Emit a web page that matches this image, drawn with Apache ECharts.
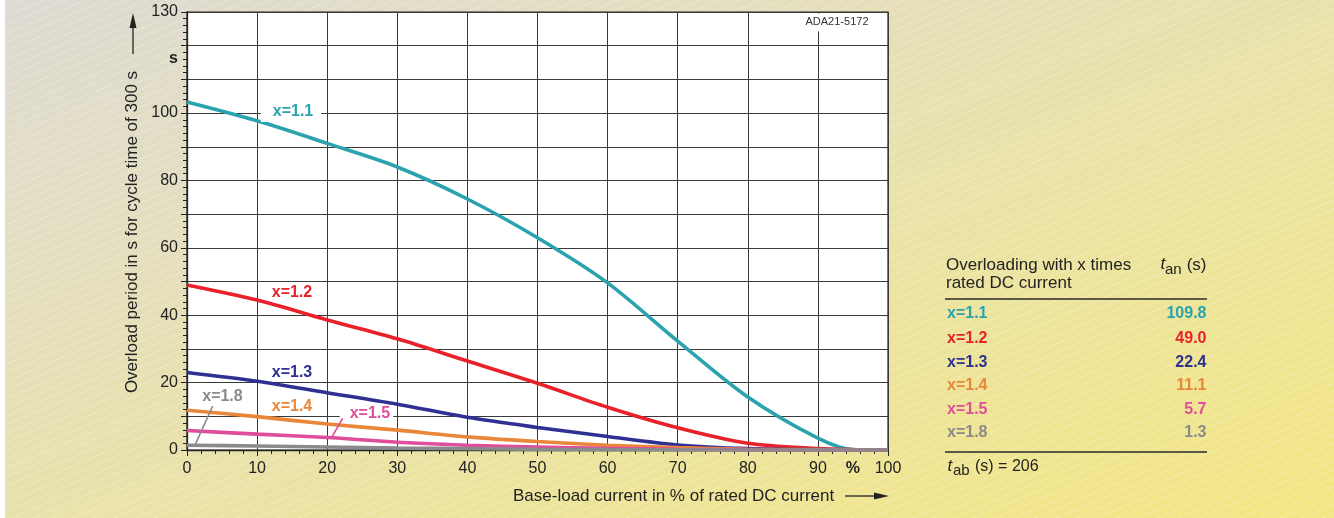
<!DOCTYPE html>
<html><head><meta charset="utf-8">
<script src="https://cdn.jsdelivr.net/npm/echarts@6/dist/echarts.min.js"></script>
<style>
html,body{margin:0;padding:0;background:#fff;overflow:hidden;}
#bg{position:absolute;left:5px;top:0;width:1329px;height:518px;
background:
 repeating-linear-gradient(157deg, rgba(255,255,255,0) 0px, rgba(255,255,255,0) 7px, rgba(255,255,255,0.22) 7px, rgba(255,255,255,0.22) 8px),
 linear-gradient(to bottom right, #dddbd3 0%, #e5dfbb 33%, #ebe3a3 60%, #f3e784 100%);}
#chart{position:absolute;left:0;top:0;width:1334px;height:518px;}
</style></head>
<body>
<div id="bg"></div>
<div id="chart"></div>
<script>
// ---- data ----
const xs   = [0, 10, 20, 30, 40, 50, 60, 70, 80, 90, 95, 100];
const s11  = [103.3, 97.7, 91.0, 84.0, 74.5, 63.0, 49.6, 32.3, 15.7, 3.5, 0.1, 0];
const s12  = [49.0, 44.5, 38.6, 33.0, 26.4, 19.8, 12.7, 6.6, 2.0, 0.4, 0.1, 0];
const s13  = [23.0, 20.4, 17.0, 13.6, 9.7, 6.7, 4.0, 1.5, 0.4, 0.1, 0, 0];
const s14  = [11.8, 9.9, 7.7, 5.9, 3.9, 2.5, 1.4, 0.7, 0.2, 0.1, 0, 0];
const s15  = [5.8, 4.7, 3.7, 2.3, 1.4, 0.9, 0.5, 0.2, 0.1, 0, 0, 0];
const s18  = [1.4, 1.2, 0.9, 0.6, 0.4, 0.2, 0.1, 0.05, 0, 0, 0, 0];
const seriesNames = ['x=1.1', 'x=1.2', 'x=1.3', 'x=1.4', 'x=1.5', 'x=1.8'];
const tanValues   = ['109.8', '49.0', '22.4', '11.1', '5.7', '1.3'];
const tabValue    = '206';
const yTickLabels = [0, 20, 40, 60, 80, 100, 130];
const colors = ['#2aa3ae', '#e8212a', '#2e3192', '#e8873a', '#e04d9b', '#8a8a8c'];

const FF = '"Liberation Sans", Arial, Helvetica, sans-serif';
const allSeries = [s11, s12, s13, s14, s15, s18];

const chart = echarts.init(document.getElementById('chart'), null, {renderer: 'canvas'});

const option = {
  backgroundColor: 'transparent',
  animation: false,
  textStyle: {fontFamily: FF},
  grid: {left: 187, right: 446, top: 12, bottom: 68, show: true, backgroundColor: '#fff',
         borderColor: '#222', borderWidth: 1.2, containLabel: false},
  xAxis: [{
    type: 'value', min: 0, max: 100, interval: 10,
    axisLine: {show: true, onZero: false, lineStyle: {color: '#222', width: 1.3}},
    axisTick: {show: true, length: 6, lineStyle: {color: '#222', width: 1}},
    minorTick: {show: true, splitNumber: 5, length: 4, lineStyle: {color: '#222', width: 1}},
    splitLine: {show: true, lineStyle: {color: '#3a3a3a', width: 1}},
    axisLabel: {fontSize: 16, color: '#222', margin: 11, fontFamily: FF,
      formatter: v => String(v)}
  }, {
    type: 'value', min: 0, max: 100, interval: 5, position: 'bottom',
    axisLine: {show: false}, axisTick: {show: false}, splitLine: {show: false},
    axisLabel: {fontSize: 16, fontWeight: 'bold', color: '#222', margin: 11, fontFamily: FF,
      formatter: v => (v === 95 ? '%' : '')}
  }],
  yAxis: {
    type: 'value', min: 0, max: 130, interval: 10,
    axisLine: {show: true, onZero: false, lineStyle: {color: '#222', width: 1.3}},
    axisTick: {show: true, length: 6, lineStyle: {color: '#222', width: 1}},
    minorTick: {show: true, splitNumber: 5, length: 4, lineStyle: {color: '#222', width: 1}},
    splitLine: {show: true, lineStyle: {color: '#3a3a3a', width: 1}},
    axisLabel: {fontSize: 16, color: '#222', margin: 9, fontFamily: FF,
      formatter: v => (yTickLabels.indexOf(v) >= 0 ? String(v) : '')}
  },
  series: allSeries.map((vals, i) => ({
    name: seriesNames[i], type: 'line', xAxisIndex: 0,
    smooth: 0.3, showSymbol: false, symbol: 'none',
    lineStyle: {color: colors[i], width: 3.6},
    z: 3 + i,
    data: xs.map((x, k) => [x, vals[k]])
  }))
};
chart.setOption(option);

const p = (x, y) => chart.convertToPixel({gridIndex: 0}, [x, y]);
const g = [];
const lblStyle = (c) => ({fontSize: 16, fontWeight: 'bold', fill: c, fontFamily: FF});

// curve labels
const ann = [
  {i: 0, at: [14.84, 100.3], bg: true, pad: [2, 8, 2, 12]},
  {i: 1, at: [14.98, 46.6]},
  {i: 2, at: [14.98, 22.85]},
  {i: 3, at: [14.98, 12.76]},
  {i: 4, at: [25.6, 10.7], bg: true, pad: [1, 3, 1, 10]},
  {i: 5, at: [5.06, 15.8]}
];
ann.forEach(a => {
  const q = p(a.at[0], a.at[1]);
  const st = Object.assign(lblStyle(colors[a.i]), {text: seriesNames[a.i], x: q[0], y: q[1], align: 'center', verticalAlign: 'middle'});
  if (a.bg) { st.backgroundColor = '#fff'; st.padding = a.pad; }
  g.push({type: 'text', z: 20, style: st});
});
// leader lines
[[4, [22.2, 9.4], [20.7, 3.96]], [5, [3.67, 13.06], [1.04, 0.98]]].forEach(l => {
  const a = p(l[1][0], l[1][1]), b = p(l[2][0], l[2][1]);
  g.push({type: 'line', z: 20, shape: {x1: a[0], y1: a[1], x2: b[0], y2: b[1]},
          style: {stroke: colors[l[0]], lineWidth: 1.6}});
});

// "s" unit label on y axis
const sp = p(0, 116.2);
g.push({type: 'text', z: 20, style: {text: 's', x: sp[0] - 9, y: sp[1], align: 'right', verticalAlign: 'middle',
        fontSize: 16, fontWeight: 'bold', fill: '#222', fontFamily: FF}});

// figure code
g.push({type: 'rect', z: 15, shape: {x: 806, y: 13.5, width: 66, height: 18}, style: {fill: '#fff'}});
g.push({type: 'text', z: 20, style: {text: 'ADA21-5172', x: 837, y: 22, align: 'center', verticalAlign: 'middle',
        fontSize: 11, fill: '#333', fontFamily: FF}});

// axis names + arrows
g.push({type: 'text', z: 20, x: 132, y: 232, rotation: Math.PI / 2,
        style: {text: 'Overload period in s for cycle time of 300 s', x: 0, y: 0, align: 'center', verticalAlign: 'middle',
                fontSize: 17, fill: '#222', fontFamily: FF}});
g.push({type: 'line', z: 20, shape: {x1: 133, y1: 54, x2: 133, y2: 24}, style: {stroke: '#222', lineWidth: 1.3}});
g.push({type: 'polygon', z: 20, shape: {points: [[133, 13], [129.5, 28], [136.5, 28]]}, style: {fill: '#222'}});
g.push({type: 'text', z: 20, style: {text: 'Base-load current in % of rated DC current', x: 513, y: 496, align: 'left', verticalAlign: 'middle',
        fontSize: 17, fill: '#222', fontFamily: FF}});
g.push({type: 'line', z: 20, shape: {x1: 845, y1: 496, x2: 876, y2: 496}, style: {stroke: '#222', lineWidth: 1.3}});
g.push({type: 'polygon', z: 20, shape: {points: [[889, 496], [874, 492.5], [874, 499.5]]}, style: {fill: '#222'}});

// table
const tStyle = {fontSize: 17, fill: '#222', fontFamily: FF};
g.push({type: 'text', style: Object.assign({}, tStyle, {text: 'Overloading with x times', x: 946, y: 265, verticalAlign: 'middle'})});
g.push({type: 'text', style: Object.assign({}, tStyle, {text: 'rated DC current', x: 946, y: 283.5, verticalAlign: 'middle'})});
g.push({type: 'text', style: Object.assign({}, tStyle, {text: 't', x: 1160.5, y: 264, verticalAlign: 'middle', fontStyle: 'italic'})});
g.push({type: 'text', style: Object.assign({}, tStyle, {text: 'an', x: 1165, y: 269.5, verticalAlign: 'middle', fontSize: 15})});
g.push({type: 'text', style: Object.assign({}, tStyle, {text: '(s)', x: 1206.5, y: 265, align: 'right', verticalAlign: 'middle'})});
g.push({type: 'line', shape: {x1: 945, y1: 299, x2: 1207, y2: 299}, style: {stroke: '#2a2a2a', lineWidth: 1.6}});
const rowY = [314, 338.3, 362.5, 385.7, 409.3, 432.7];
seriesNames.forEach((n, i) => {
  g.push({type: 'text', style: Object.assign(lblStyle(colors[i]), {text: n, x: 947, y: rowY[i], verticalAlign: 'middle'})});
  g.push({type: 'text', style: Object.assign(lblStyle(colors[i]), {text: tanValues[i], x: 1206.5, y: rowY[i], align: 'right', verticalAlign: 'middle'})});
});
g.push({type: 'line', shape: {x1: 945, y1: 452, x2: 1207, y2: 452}, style: {stroke: '#2a2a2a', lineWidth: 1.6}});
g.push({type: 'text', style: Object.assign({}, tStyle, {text: 't', x: 947.5, y: 466, verticalAlign: 'middle', fontStyle: 'italic'})});
g.push({type: 'text', style: Object.assign({}, tStyle, {text: 'ab', x: 953, y: 471, verticalAlign: 'middle', fontSize: 15})});
g.push({type: 'text', style: Object.assign({}, tStyle, {text: '(s) = ' + tabValue, x: 975, y: 466.5, verticalAlign: 'middle', fontSize: 16})});

chart.setOption({graphic: g});
</script>
</body></html>
